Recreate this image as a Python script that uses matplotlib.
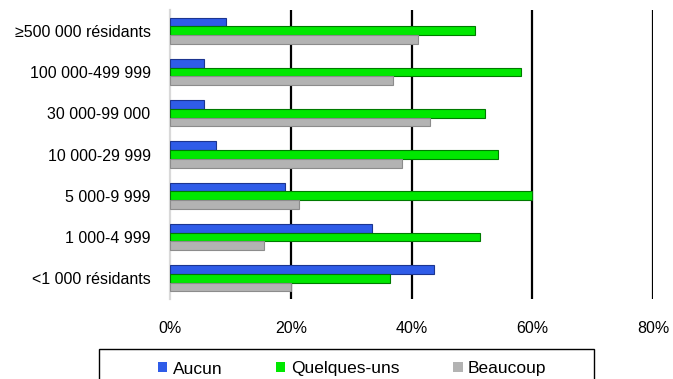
import matplotlib.pyplot as plt
import numpy as np
from matplotlib.patches import Rectangle

# population size classes (top to bottom as shown)
categories = ["≥500 000 résidants", "100 000-499 999", "30 000-99 000",
              "10 000-29 999", "5 000-9 999", "1 000-4 999", "<1 000 résidants"]
aucun = [9.2, 5.6, 5.6, 7.7, 19.1, 33.4, 43.8]
quelques = [50.5, 58.1, 52.1, 54.4, 60.0, 51.4, 36.4]
beaucoup = [41.0, 37.0, 43.0, 38.4, 21.3, 15.5, 20.0]
series_names = ["Aucun", "Quelques-uns", "Beaucoup"]
xticks = [0, 20, 40, 60, 80]

plt.rcParams['font.family'] = ['Liberation Sans', 'DejaVu Sans']

fig = plt.figure(figsize=(6.73, 3.79), dpi=100)
ax = fig.add_axes([170 / 673, 1 - 299 / 379, (653 - 170) / 673, (299 - 10) / 379])

y = np.arange(len(categories))
h = 0.21
ax.barh(y - h, aucun, height=h, color='#2f5ce8', edgecolor='#1c3590', linewidth=0.8, label=series_names[0], zorder=3)
ax.barh(y, quelques, height=h, color='#00e800', edgecolor='#007a00', linewidth=0.8, label=series_names[1], zorder=3)
ax.barh(y + h, beaucoup, height=h, color='#b3b3b3', edgecolor='#8c8c8c', linewidth=0.8, label=series_names[2], zorder=3)

ax.set_ylim(len(categories) - 0.5, -0.5)
ax.set_xlim(0, 80)
ax.set_yticks(y)
ax.set_yticklabels(categories, fontsize=11.5)
ax.set_xticks(xticks)
ax.set_xticklabels([f"{t}%" for t in xticks], fontsize=11.5)
ax.tick_params(axis='y', length=0, pad=14)
ax.tick_params(axis='x', length=0, pad=16)

for t in xticks[1:]:
    ax.axvline(t, color='black', linewidth=1.6, zorder=2)

for s in ['top', 'right', 'bottom']:
    ax.spines[s].set_visible(False)
ax.spines['left'].set_color('#d9d9d9')
ax.spines['left'].set_linewidth(1.6)

leg = fig.legend(loc='center', bbox_to_anchor=(352 / 673, 1 - 369 / 379), ncol=3,
                 frameon=False, fontsize=12.5, handlelength=0.55, handleheight=0.5,
                 handletextpad=0.3, columnspacing=3.1)
for p in leg.get_patches():
    p.set_linewidth(0)

fig.patches.append(Rectangle((99 / 673, 1 - 395 / 379), (594 - 99) / 673, (395 - 349) / 379,
                             transform=fig.transFigure, fill=False, edgecolor='black',
                             linewidth=1.0, clip_on=False))

fig.savefig("out.png", dpi=100)
